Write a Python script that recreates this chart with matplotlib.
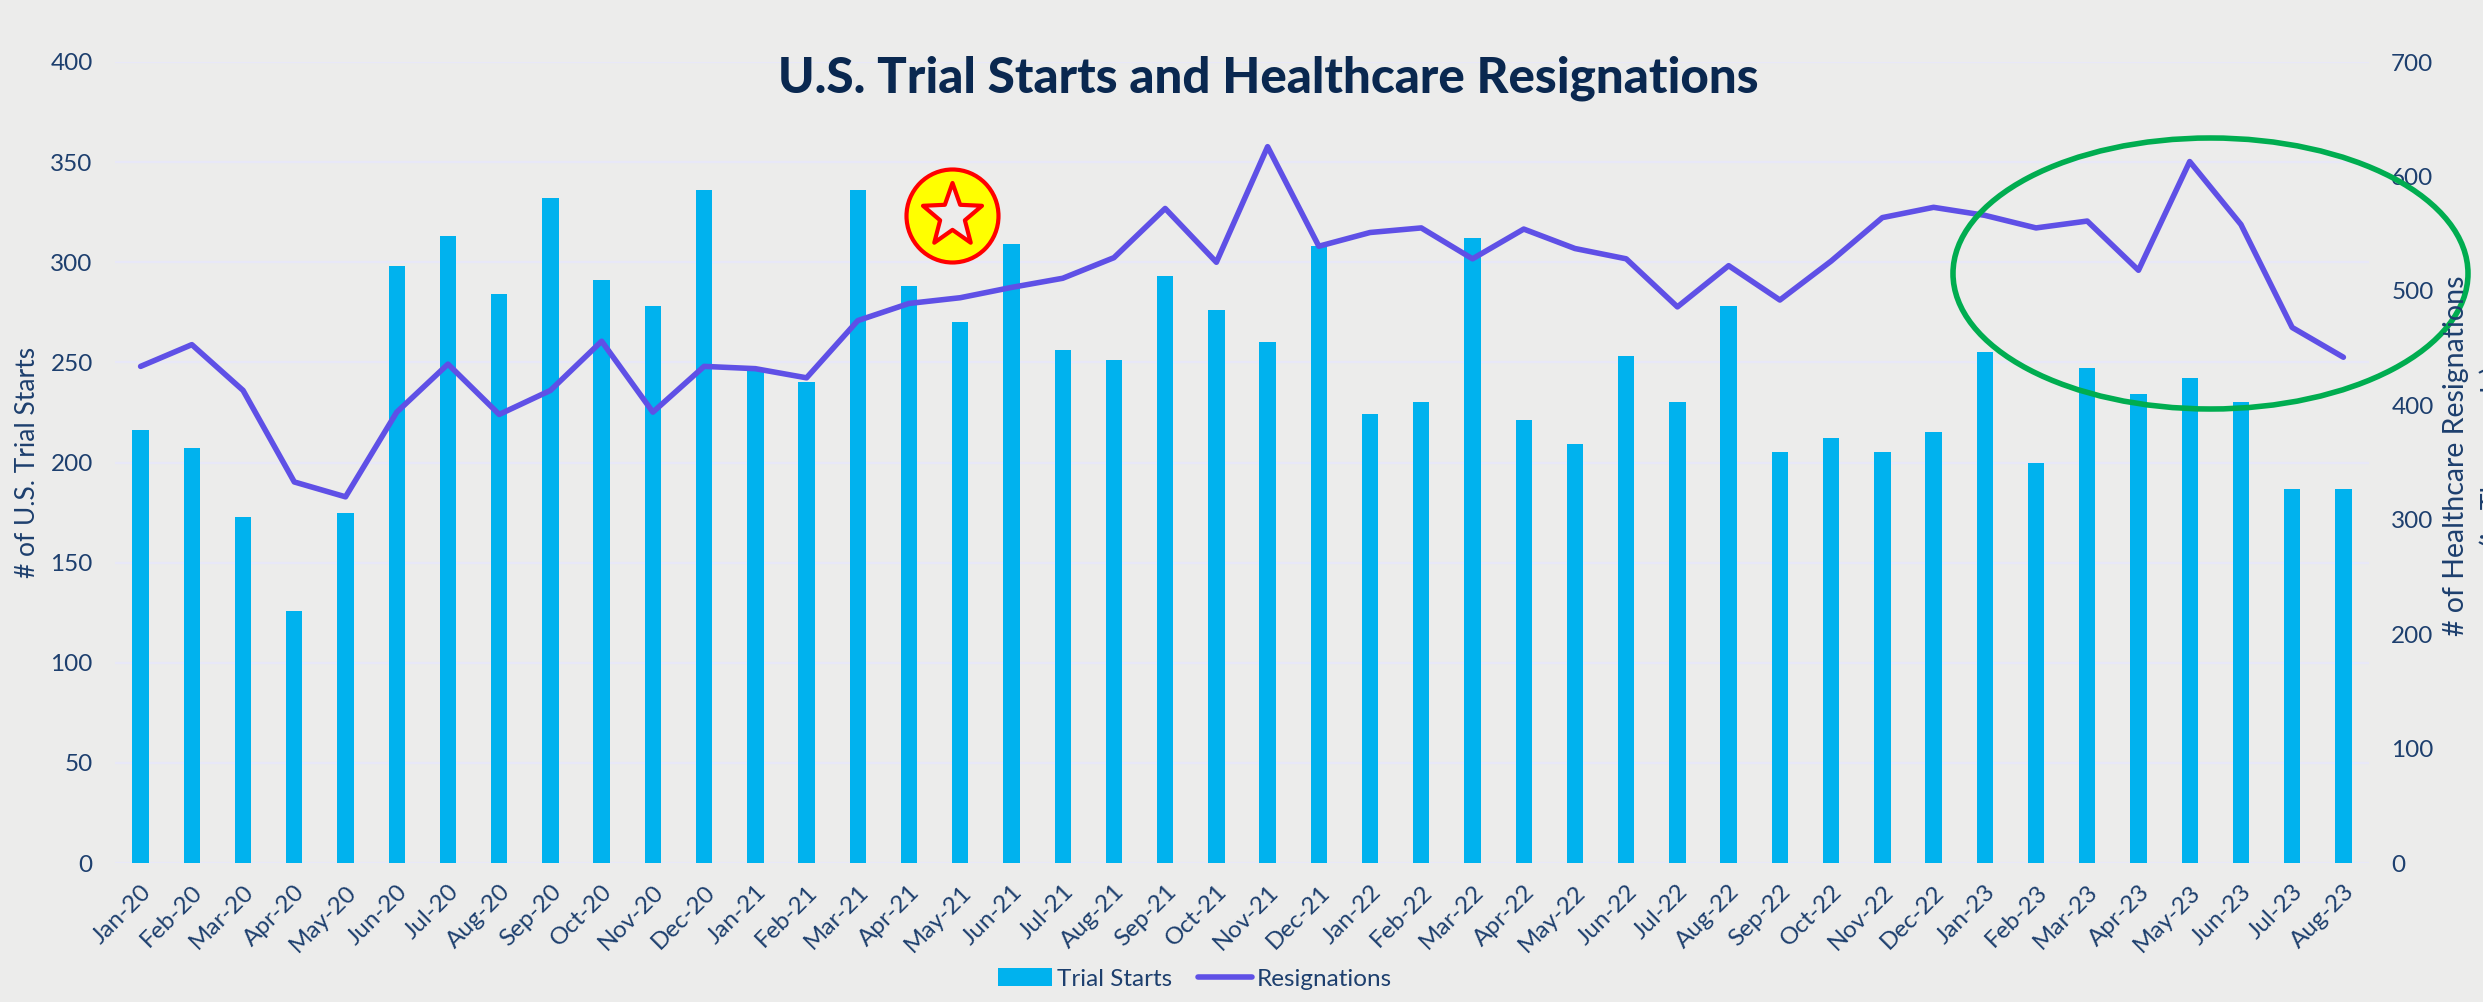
import numpy as np
import matplotlib
matplotlib.use("Agg")
import matplotlib.pyplot as plt
from matplotlib.patches import Ellipse, Polygon

W, H = 2483, 1002

months = ["Jan-20", "Feb-20", "Mar-20", "Apr-20", "May-20", "Jun-20", "Jul-20", "Aug-20", "Sep-20", "Oct-20", "Nov-20", "Dec-20",
          "Jan-21", "Feb-21", "Mar-21", "Apr-21", "May-21", "Jun-21", "Jul-21", "Aug-21", "Sep-21", "Oct-21", "Nov-21", "Dec-21",
          "Jan-22", "Feb-22", "Mar-22", "Apr-22", "May-22", "Jun-22", "Jul-22", "Aug-22", "Sep-22", "Oct-22", "Nov-22", "Dec-22",
          "Jan-23", "Feb-23", "Mar-23", "Apr-23", "May-23", "Jun-23", "Jul-23", "Aug-23"]
trial_starts = [216, 207, 173, 126, 175, 298, 313, 284, 332, 291, 278, 336,
                247, 240, 336, 288, 270, 309, 256, 251, 293, 276, 260, 308,
                224, 230, 312, 221, 209, 253, 230, 278, 205, 212, 205, 215,
                255, 200, 247, 234, 242, 230, 187, 187]
resignations = [434, 453, 413, 333, 320, 394, 436, 392, 413, 456, 394, 434,
                432, 424, 474, 489, 494, 503, 511, 529, 572, 525, 626, 539,
                551, 555, 528, 554, 537, 528, 486, 522, 492, 526, 564, 573,
                566, 555, 561, 518, 613, 558, 468, 442]

BG = "#ececeb"
NAVY = "#1d3f6e"
TITLE = "#0a2850"
BAR = "#00b2ee"
LINE = "#5f50e6"
GRID = "#e8e8f8"

plt.rcParams["font.family"] = ["Lato", "DejaVu Sans"]

fig = plt.figure(figsize=(W / 100, H / 100), dpi=100, facecolor=BG)
# axes box in pixels: x 115..2369, y 62..863 from the top
ax = fig.add_axes([115 / W, 1 - 863 / H, (2369 - 115) / W, (863 - 62) / H], facecolor="none")
ax2 = ax.twinx()

x = np.arange(len(months))
bars = ax.bar(x, trial_starts, width=0.32, color=BAR, zorder=3, label="Trial Starts")
line, = ax2.plot(x, resignations, color=LINE, lw=4, solid_joinstyle="round", solid_capstyle="round",
                 zorder=4, label="Resignations")

ax.set_xlim(-0.5, len(months) - 0.5)
ax.set_ylim(0, 400)
ax2.set_ylim(0, 700)
ax.set_yticks(range(0, 401, 50))
ax2.set_yticks(range(0, 701, 100))
ax.set_xticks(x)
ax.set_xticklabels(months, rotation=45, ha="right", rotation_mode="anchor")
ax.grid(axis="y", color=GRID, lw=1.6, zorder=0)
ax.set_axisbelow(True)

for a in (ax, ax2):
    for s in a.spines.values():
        s.set_visible(False)
    a.tick_params(length=0, labelsize=17.5, labelcolor=NAVY)
ax.tick_params(axis="x", pad=13, labelsize=17.5)
ax.tick_params(axis="y", pad=16)
ax2.tick_params(axis="y", pad=16)

fig.text(28 / W, 1 - 462 / H, "# of U.S. Trial Starts", rotation=90, color=NAVY, fontsize=19,
         ha="center", va="center")
fig.text(2456 / W, 1 - 456 / H, "# of Healthcare Resignations", rotation=90, color=NAVY, fontsize=20.5,
         ha="center", va="center")
fig.text(2493 / W, 1 - 456 / H, "(in Thousands)", rotation=90, color=NAVY, fontsize=20.5,
         ha="center", va="center")

t = fig.text(1268 / W, 1 - 78 / H, "U.S. Trial Starts and Healthcare Resignations", color=TITLE, fontsize=35.5,
             fontweight="black", ha="center", va="center")

fig.legend([bars, line], ["Trial Starts", "Resignations"], loc="center", bbox_to_anchor=(1195 / W, 1 - 979 / H),
           ncol=2, frameon=False, fontsize=17.5, labelcolor=NAVY, handlelength=2.2, handleheight=0.75,
           columnspacing=1.1, handletextpad=0.2)

# hand-drawn callouts, placed in figure pixels
overlay = fig.add_axes([0, 0, 1, 1], facecolor="none")
overlay.set_xlim(0, W)
overlay.set_ylim(H, 0)
overlay.axis("off")
overlay.add_patch(Ellipse((2210.5, 273.5), 515, 271, fill=False, ec="#00ad50", lw=4))
overlay.add_patch(Ellipse((952.5, 216), 92, 93, fc="#ffff00", ec="#ff0000", lw=3))
ang = np.deg2rad(-90 + 36 * np.arange(10))
rad = np.where(np.arange(10) % 2 == 0, 1.0, 0.42)
star = np.column_stack([952.5 + 31 * rad * np.cos(ang), 216 + 33 * rad * np.sin(ang)])
overlay.add_patch(Polygon(star, closed=True, fc=BG, ec="#ff0000", lw=3, joinstyle="round"))

fig.savefig("out.png", dpi=100, facecolor=BG)
